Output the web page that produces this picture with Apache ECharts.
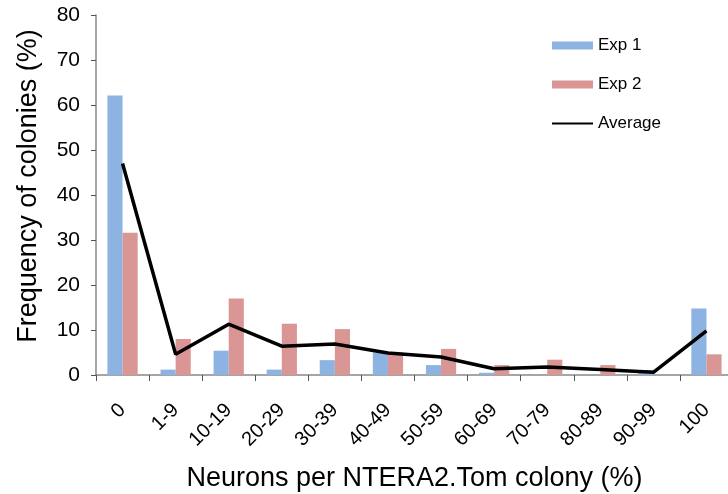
<!DOCTYPE html>
<html>
<head>
<meta charset="utf-8">
<script src="https://cdn.jsdelivr.net/npm/echarts@6/dist/echarts.min.js"></script>
<style>
    html, body { margin: 0; padding: 0; background: #fff; }
    #chart { width: 728px; height: 494px; }
</style>
</head>
<body>
<div id="chart"></div>
<script>
// categories on x
var categories = ['0', '1-9', '10-19', '20-29', '30-39', '40-49', '50-59', '60-69', '70-79', '80-89', '90-99', '100'];
// series
var exp1 = [62.1, 1.2, 5.4, 1.2, 3.3, 5.0, 2.2, 0.5, 0, 0, 1.1, 14.8];
var exp2 = [31.6, 8.0, 17.0, 11.4, 10.2, 5.0, 5.8, 2.2, 3.4, 2.2, 0, 4.6];
var average = [47.0, 4.6, 11.3, 6.4, 6.9, 4.9, 4.0, 1.4, 1.8, 1.2, 0.6, 9.8];
var yTicks = [0, 10, 20, 30, 40, 50, 60, 70, 80];

var chart = echarts.init(document.getElementById('chart'));
var font = 'Liberation Sans, Arial, sans-serif';

var option = {
    animation: false,
    textStyle: { fontFamily: font },
    grid: {
        left: 96,
        top: 15,
        bottom: 119,
        width: 637,
        // plot runs a little past the right edge, like the original
        outerBoundsMode: 'none'
    },
    legend: {
        orient: 'vertical',
        left: 546,
        top: 32,
        itemWidth: 41,
        itemHeight: 8,
        itemGap: 22,
        textStyle: { fontSize: 17, color: '#000', fontFamily: font },
        data: [
            { name: 'Exp 1', icon: 'rect' },
            { name: 'Exp 2', icon: 'rect' },
            // hide the dot that a line legend draws in the middle
            { name: 'Average', itemStyle: { opacity: 0 } }
        ]
    },
    xAxis: {
        type: 'category',
        data: categories,
        name: 'Neurons per NTERA2.Tom colony (%)',
        nameLocation: 'middle',
        nameGap: 90,
        nameTextStyle: { fontSize: 27, color: '#000', fontFamily: font },
        axisLine: { lineStyle: { color: '#888', width: 1.5 } },
        axisTick: { show: true, length: 6, lineStyle: { color: '#555' } },
        axisLabel: { rotate: 45, interval: 0, margin: 32, fontSize: 20, color: '#000' }
    },
    yAxis: {
        type: 'value',
        min: yTicks[0],
        max: yTicks[yTicks.length - 1],
        interval: 10,
        name: 'Frequency of colonies (%)',
        nameLocation: 'middle',
        nameGap: 54,
        nameTextStyle: { fontSize: 27, color: '#000', fontFamily: font, padding: [0, 0, 0, 18] },
        splitLine: { show: false },
        axisLine: { show: true, lineStyle: { color: '#888', width: 1.5 } },
        axisTick: { show: true, length: 5, lineStyle: { color: '#555' } },
        axisLabel: { fontSize: 21, color: '#000', margin: 16 }
    },
    series: [
        {
            name: 'Exp 1',
            type: 'bar',
            data: exp1,
            barGap: '0%',
            barCategoryGap: '43%',
            itemStyle: { color: '#8db3e2' }
        },
        {
            name: 'Exp 2',
            type: 'bar',
            data: exp2,
            itemStyle: { color: '#d99694' }
        },
        {
            name: 'Average',
            type: 'line',
            data: average,
            symbol: 'none',
            itemStyle: { color: '#000' },
            lineStyle: { color: '#000', width: 3.5 }
        }
    ]
};

chart.setOption(option);
</script>
</body>
</html>
